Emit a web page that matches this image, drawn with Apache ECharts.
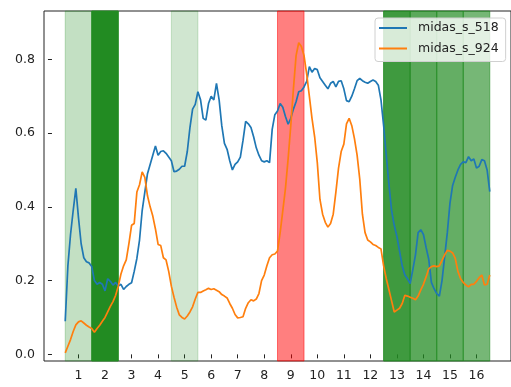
<!DOCTYPE html>
<html>
<head>
<meta charset="utf-8">
<script src="https://cdn.jsdelivr.net/npm/echarts@6/dist/echarts.min.js"></script>
<style>
html,body{margin:0;padding:0;background:#fff;}
#chart{width:511px;height:387px;}
</style>
</head>
<body>
<div id="chart"></div>
<script>
// ---- data ----
const xStart = 0.5;
const xStep = 0.1;
const seriesNames = ['midas_s_518', 'midas_s_924'];
const midas_s_518 = [
  0.09, 0.24, 0.325, 0.39, 0.45, 0.37, 0.30, 0.262, 0.251, 0.248,
  0.238, 0.20, 0.19, 0.195, 0.19, 0.172, 0.205, 0.198, 0.188, 0.195,
  0.185, 0.19, 0.176, 0.184, 0.19, 0.194, 0.225, 0.26, 0.31, 0.39,
  0.44, 0.49, 0.515, 0.54, 0.565, 0.54, 0.55, 0.552, 0.545, 0.535,
  0.525, 0.495, 0.497, 0.502, 0.51, 0.51, 0.55, 0.615, 0.665, 0.678,
  0.712, 0.69, 0.64, 0.635, 0.68, 0.70, 0.69, 0.735, 0.69, 0.62,
  0.572, 0.556, 0.525, 0.50, 0.515, 0.522, 0.535, 0.58, 0.632, 0.625,
  0.615, 0.59, 0.56, 0.54, 0.525, 0.522, 0.525, 0.52, 0.61, 0.65,
  0.66, 0.68, 0.67, 0.645, 0.624, 0.64, 0.665, 0.685, 0.712, 0.715,
  0.725, 0.74, 0.78, 0.765, 0.775, 0.772, 0.75, 0.74, 0.73, 0.72,
  0.735, 0.74, 0.725, 0.74, 0.742, 0.72, 0.688, 0.685, 0.70, 0.72,
  0.742, 0.748, 0.742, 0.738, 0.735, 0.74, 0.744, 0.74, 0.73, 0.69,
  0.62, 0.54, 0.46, 0.39, 0.35, 0.32, 0.28, 0.24, 0.215, 0.205,
  0.192, 0.23, 0.27, 0.33, 0.338, 0.325, 0.29, 0.258, 0.195, 0.178,
  0.165, 0.158, 0.20, 0.265, 0.33, 0.41, 0.458, 0.48, 0.50, 0.515,
  0.522, 0.52, 0.536, 0.525, 0.53, 0.505, 0.51, 0.528, 0.525, 0.50,
  0.441
];
const midas_s_924 = [
  0.004, 0.022, 0.04, 0.062, 0.08, 0.088, 0.091, 0.085, 0.079, 0.074,
  0.07, 0.06, 0.07, 0.079, 0.09, 0.10, 0.115, 0.13, 0.143, 0.16,
  0.185, 0.218, 0.24, 0.256, 0.30, 0.35, 0.355, 0.44, 0.46, 0.495,
  0.48, 0.43, 0.40, 0.375, 0.34, 0.298, 0.295, 0.262, 0.256, 0.225,
  0.185, 0.155, 0.128, 0.107, 0.10, 0.096, 0.104, 0.115, 0.129, 0.15,
  0.168, 0.168, 0.172, 0.175, 0.179, 0.176, 0.178, 0.174, 0.17, 0.162,
  0.158, 0.153, 0.138, 0.125, 0.108, 0.099, 0.10, 0.102, 0.125, 0.14,
  0.148, 0.145, 0.15, 0.165, 0.2, 0.215, 0.24, 0.262, 0.27, 0.272,
  0.28, 0.33, 0.39, 0.45, 0.53, 0.62, 0.72, 0.81, 0.845, 0.835,
  0.81, 0.76, 0.70, 0.64, 0.59, 0.52, 0.42, 0.38, 0.358, 0.345,
  0.355, 0.38, 0.44, 0.505, 0.55, 0.57, 0.625, 0.64, 0.62, 0.585,
  0.54, 0.475, 0.38, 0.33, 0.31, 0.305, 0.298, 0.295, 0.29, 0.286,
  0.24, 0.205, 0.175, 0.145, 0.115, 0.12, 0.125, 0.138, 0.16, 0.158,
  0.155, 0.152, 0.148, 0.158, 0.175, 0.19, 0.21, 0.232, 0.238, 0.24,
  0.238, 0.24, 0.255, 0.27, 0.282, 0.28, 0.275, 0.26, 0.225, 0.205,
  0.195, 0.188, 0.183, 0.19, 0.19, 0.198, 0.208, 0.215, 0.188, 0.19,
  0.215
];
const spanRanges = [
  [0.5, 1.5], [1.5, 2.5], [4.5, 5.5], [8.5, 9.5],
  [12.5, 13.5], [13.5, 14.5], [14.5, 15.5], [15.5, 16.5]
];
const xTickValues = [1, 2, 3, 4, 5, 6, 7, 8, 9, 10, 11, 12, 13, 14, 15, 16];
const yTickValues = [0.0, 0.2, 0.4, 0.6, 0.8];

// ---- styles ----
const lineColors = ['#1f77b4', '#ff7f0e'];
const spanColors = [
  'rgba(34,139,34,0.27)', 'rgba(34,139,34,1)', 'rgba(34,139,34,0.21)', 'rgba(255,0,0,0.5)',
  'rgba(34,139,34,0.87)', 'rgba(34,139,34,0.74)', 'rgba(34,139,34,0.70)', 'rgba(34,139,34,0.62)'
];
const axisRange = { xMin: -0.3, xMax: 17.3, yMin: -0.018, yMax: 0.931 };
const fontFamily = 'DejaVu Sans';
const textColor = '#222';

const toPairs = (vals) => vals.map((v, i) => [+(xStart + i * xStep).toFixed(2), v]);

const chart = echarts.init(document.getElementById('chart'), null, { renderer: 'canvas' });
chart.setOption({
  animation: false,
  backgroundColor: '#fff',
  grid: {
    left: 44, top: 11, width: 469.4, height: 350,
    show: true, borderColor: '#222', borderWidth: 1, backgroundColor: 'transparent'
  },
  legend: {
    data: seriesNames,
    orient: 'vertical',
    left: 375, top: 18,
    icon: 'rect',
    itemWidth: 28, itemHeight: 2,
    itemGap: 6.5,
    padding: [3, 7, 6, 4],
    backgroundColor: 'rgba(255,255,255,0.8)',
    borderColor: '#d0d0d0', borderWidth: 1, borderRadius: 3,
    textStyle: { fontFamily, fontSize: 12.5, color: textColor, lineHeight: 14, padding: [0, 0, 0, 6] }
  },
  xAxis: {
    type: 'value', min: axisRange.xMin, max: axisRange.xMax,
    splitLine: { show: false },
    axisLine: { show: false },
    axisTick: { show: true, length: 4, customValues: xTickValues, lineStyle: { color: '#222' } },
    axisLabel: { customValues: xTickValues, margin: 8, fontFamily, fontSize: 12.5, color: textColor }
  },
  yAxis: {
    type: 'value', min: axisRange.yMin, max: axisRange.yMax,
    splitLine: { show: false },
    axisLine: { show: false },
    axisTick: { show: true, length: 4, customValues: yTickValues, lineStyle: { color: '#222' } },
    axisLabel: {
      customValues: yTickValues, margin: 9, fontFamily, fontSize: 12.5, color: textColor,
      formatter: (v) => Number(v).toFixed(1)
    }
  },
  series: [
    {
      name: '__spans', type: 'line', data: [], z: 1, silent: true,
      markArea: {
        silent: true,
        data: spanRanges.map((r, i) => [
          { xAxis: r[0], itemStyle: { color: spanColors[i], borderColor: spanColors[i], borderWidth: 1 } },
          { xAxis: r[1] }
        ])
      }
    },
    {
      name: seriesNames[0], type: 'line', data: toPairs(midas_s_518), z: 3,
      showSymbol: false, symbol: 'none', color: lineColors[0],
      lineStyle: { width: 1.7, color: lineColors[0] }
    },
    {
      name: seriesNames[1], type: 'line', data: toPairs(midas_s_924), z: 3,
      showSymbol: false, symbol: 'none', color: lineColors[1],
      lineStyle: { width: 1.7, color: lineColors[1] }
    }
  ]
});
</script>
</body>
</html>
